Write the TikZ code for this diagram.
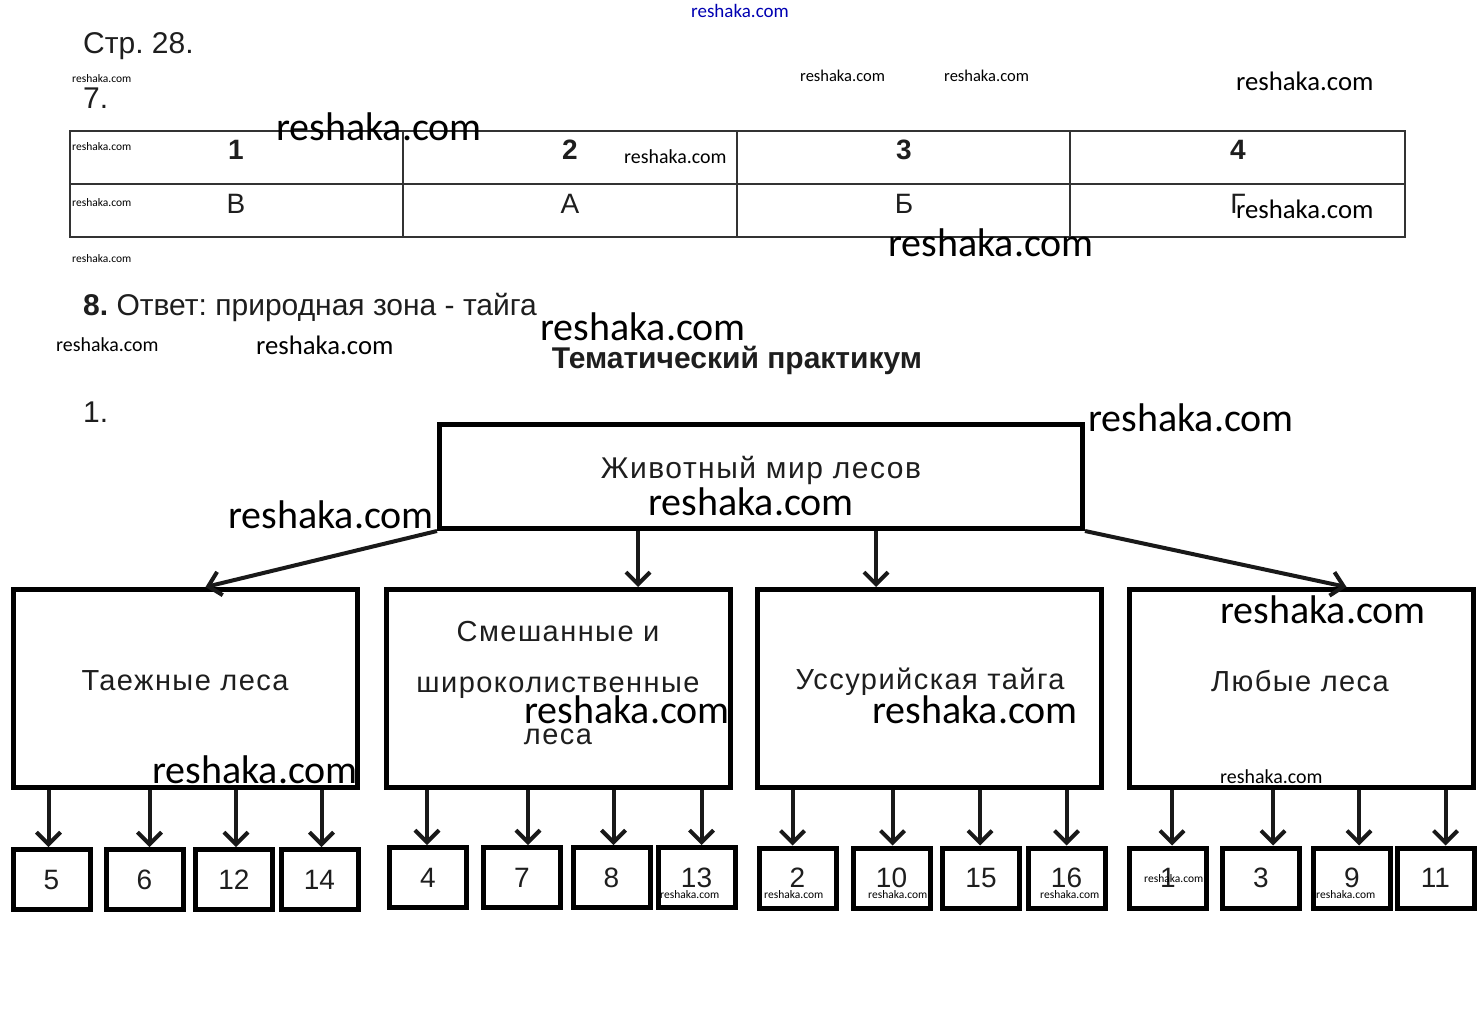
\documentclass[tikz,border=0pt]{standalone}
\usepackage{fontspec}
\setmainfont{Liberation Sans}
\newfontfamily\wmfont{Carlito}
\usetikzlibrary{arrows.meta,calc}
\frenchspacing
\newcommand\myfs[1]{\fontsize{#1}{#1}\selectfont}
\definecolor{ink}{HTML}{1E1E1E}
\tikzset{
  wm/.style={font=\wmfont\myfs{#1}, inner sep=0pt, anchor=west, text=black},
  plain/.style={font=\myfs{#1}, inner sep=0pt, text=ink},
  tline/.style={draw=black!80, line width=1.3pt},
  bigbox/.style={draw=black, line width=5pt, inner sep=0pt},
  boxtext/.style={inner sep=0pt, text=ink, align=center,
                 font=\addfontfeature{LetterSpace=5}\fontsize{#1}{51.5}\selectfont},
  numbox/.style={draw=black, line width=5pt, inner sep=0pt, minimum width=77pt,
                 minimum height=60pt, text=ink, font=\myfs{28}},
  arr/.style={draw=black!90, line width=4pt, -{Straight Barb[length=12pt,width=24pt,line width=4pt]}},
}
\begin{document}
\begin{tikzpicture}[x=1pt,y=-1pt]
\useasboundingbox (0,0) rectangle (1478,1022);
\fill[white] (0,0) rectangle (1478,1022);

% headings
\node[plain=30, anchor=west] (str) at (83,46) {Стр. 28.};
\node[plain=30, anchor=west] (n7) at (83,98) {7.};

% table
\draw[tline] (70,131) rectangle (1405,237);
\draw[tline] (70,184) -- (1405,184);
\foreach \x in {403,737,1070} \draw[tline] (\x,131) -- (\x,237);
\node[plain=28, font=\bfseries\myfs{28}] (h1) at (236,150) {1};
\node[plain=28, font=\bfseries\myfs{28}] (h2) at (570,150) {2};
\node[plain=28, font=\bfseries\myfs{28}] (h3) at (904,150) {3};
\node[plain=28, font=\bfseries\myfs{28}] (h4) at (1238,150) {4};
\node[plain=28] (a1) at (236,204) {В};
\node[plain=28] (a2) at (570,204) {А};
\node[plain=28] (a3) at (904,204) {Б};
\node[plain=28] (a4) at (1238,204) {Г};

\node[plain=30, anchor=west] (ans8) at (83,307) {\textbf{8.} Ответ: природная зона - тайга};
\node[plain=30, font=\bfseries\myfs{30}] (tp) at (737,360) {Тематический практикум};
\node[plain=30, anchor=west] (n1) at (83,412) {1.};

% diagram boxes
\node[bigbox, minimum width=643pt, minimum height=104pt] (top) at (761,476.5) {};
\node[bigbox, minimum width=344pt, minimum height=198pt] (t1) at (185.5,688.5) {};
\node[bigbox, minimum width=344pt, minimum height=198pt] (t2) at (558.5,688.5) {};
\node[bigbox, minimum width=344pt, minimum height=198pt] (t3) at (929.5,688.5) {};
\node[bigbox, minimum width=344pt, minimum height=198pt] (t4) at (1301.5,688.5) {};

\node[boxtext=30] (ltop) at (761,470) {Животный мир лесов};
\node[boxtext=29] (l1) at (185,681) {Таежные леса};
\node[boxtext=29] (l2) at (558,683) {Смешанные и\\широколиственные\\леса};
\node[boxtext=29] (l3) at (930,682) {Уссурийская тайга};
\node[boxtext=29] (l4) at (1300,681) {Любые леса};

\draw[arr] (top.south west) -- ([xshift=20pt]t1.north);
\draw[arr] ([xshift=-123pt]top.south) -- ([xshift=-123pt]top.south |- t2.north);
\draw[arr] ([xshift=115pt]top.south) -- ([xshift=115pt]top.south |- t3.north);
\draw[arr] (top.south east) -- ([xshift=45pt]t4.north);

% bottom boxes
\foreach \n/\x/\y in {5/51.5/879.5, 6/144.5/879.5, 12/234/879.5, 14/319.5/879.5,
                      4/428/877.5, 7/522/877.5, 8/611.5/877.5, 13/696.5/877.5,
                      2/797.5/878, 10/891.5/878, 15/981/878, 16/1066.5/878,
                      1/1168/878, 3/1261/878, 9/1352/878, 11/1435.5/878}
  \node[numbox] (b\n) at (\x,\y) {\n};

\foreach \p/\c/\d in {t1/b5/-3, t1/b6/5, t1/b12/2, t1/b14/2,
                      t2/b4/-1, t2/b7/6, t2/b8/2, t2/b13/5,
                      t3/b2/-5, t3/b10/1, t3/b15/-1, t3/b16/0,
                      t4/b1/4, t4/b3/12, t4/b9/7, t4/b11/10}
  \draw[arr] ([xshift=\d pt]\c.north |- \p.south) -- ([xshift=\d pt]\c.north);

% watermarks
\node[wm=19, text=blue!70!black] (w0) at (691,11) {reshaka.com};
\node[wm=11.5] (w1) at (72,79) {reshaka.com};
\node[wm=16.5] (w2) at (800,76) {reshaka.com};
\node[wm=16.5] (w3) at (944,76) {reshaka.com};
\node[wm=26.7] (w4) at (1236,81) {reshaka.com};
\node[wm=40] (w5) at (276,127) {reshaka.com};
\node[wm=11.5] (w6) at (72,147) {reshaka.com};
\node[wm=19.9] (w7) at (624,157) {reshaka.com};
\node[wm=11.5] (w8) at (72,203) {reshaka.com};
\node[wm=26.7] (w9) at (1236,209) {reshaka.com};
\node[wm=40] (w10) at (888,243) {reshaka.com};
\node[wm=11.5] (w11) at (72,259) {reshaka.com};
\node[wm=40] (w12) at (540,327) {reshaka.com};
\node[wm=19.9] (w13) at (56,345) {reshaka.com};
\node[wm=26.7] (w14) at (256,345) {reshaka.com};
\node[wm=40] (w15) at (1088,418) {reshaka.com};
\node[wm=40] (w16) at (228,515) {reshaka.com};
\node[wm=40] (w17) at (648,502) {reshaka.com};
\node[wm=40] (w18) at (1220,610) {reshaka.com};
\node[wm=40] (w19) at (524,710) {reshaka.com};
\node[wm=40] (w20) at (872,710) {reshaka.com};
\node[wm=40] (w21) at (152,770) {reshaka.com};
\node[wm=19.9] (w22) at (1220,777) {reshaka.com};
\node[wm=11.5] (w23) at (660,895) {reshaka.com};
\node[wm=11.5] (w24) at (764,895) {reshaka.com};
\node[wm=11.5] (w25) at (868,895) {reshaka.com};
\node[wm=11.5] (w26) at (1040,895) {reshaka.com};
\node[wm=11.5] (w27) at (1144,879) {reshaka.com};
\node[wm=11.5] (w28) at (1316,895) {reshaka.com};
\end{tikzpicture}
\end{document}
